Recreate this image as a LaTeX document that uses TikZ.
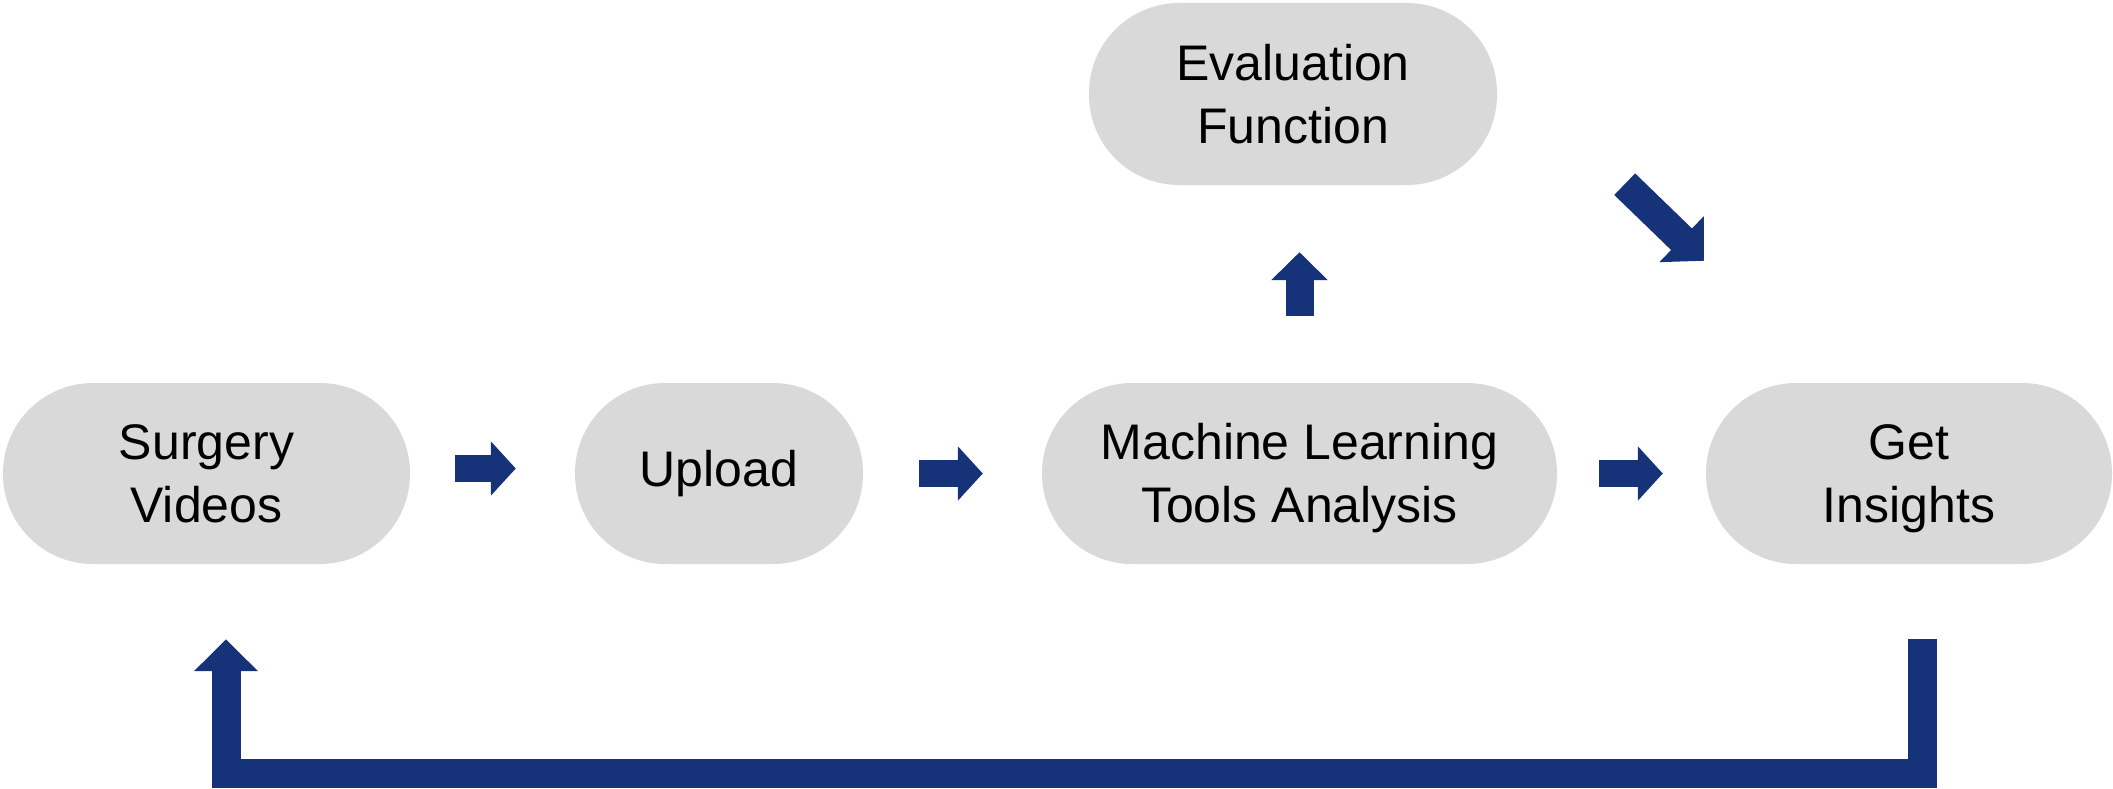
\documentclass[tikz,border=0pt]{standalone}
\usepackage{fontspec}
\setmainfont{Liberation Sans}
\usetikzlibrary{arrows.meta}
\definecolor{pillgray}{HTML}{D9D9D9}
\definecolor{navy}{RGB}{22,51,122}
\begin{document}
\begin{tikzpicture}[x=1pt,y=-1pt,
  pill/.style={fill=pillgray, draw=none, rounded corners=90pt,
    minimum height=181pt, inner sep=0pt, align=center,
    font=\fontsize{50}{63}\selectfont, text height=98.8pt, text depth=0pt},
  oneline/.style={text height=35.8pt, text depth=9pt},
  flow/.style={draw=navy, line width=27pt, line cap=butt,
    -{Triangle[length=25pt,width=53pt]}},
  upflow/.style={draw=navy, line width=28pt, line cap=butt,
    -{Triangle[length=28pt,width=55pt]}},
  slantflow/.style={draw=navy, line width=30pt, line cap=butt,
    -{Triangle[length=31pt,width=62pt]}},
  loopflow/.style={draw=navy, line width=29pt, line cap=butt, line join=miter,
    -{Triangle[length=32pt,width=62pt]}}]
\useasboundingbox (0,0) rectangle (2113,789);

% process stages
\node[pill, minimum width=407pt] (sv) at (206.5,473.5) {Surgery\\Videos};
\node[pill, oneline, minimum width=288pt] (up) at (719,473.5) {Upload};
\node[pill, minimum width=515pt] (ml) at (1299.5,473.5) {Machine Learning\\Tools Analysis};
\node[pill, minimum width=406pt] (gi) at (1909,473.5) {Get\\Insights};
\node[pill, minimum width=408pt, minimum height=182pt] (ev) at (1293,94) {Evaluation\\Function};

% forward flow
\draw[flow] ([shift={(45,-5)}]sv.east) -- ([shift={(-59,-5)}]up.west);
\draw[flow] ([shift={(56,0)}]up.east) -- ([shift={(-59,0)}]ml.west);
\draw[flow] ([shift={(42,0)}]ml.east) -- ([shift={(-43,0)}]gi.west);

% evaluation branch
\draw[upflow] ([shift={(0,-67)}]ml.north) -- ([shift={(6.5,67)}]ev.south);
\draw[slantflow] ([shift={(127.5,-1)}]ev.south east) -- ([shift={(-2,-122)}]gi.north west);

% feedback loop
\draw[loopflow] ([shift={(13.5,75)}]gi.south) -- ++(0,134.5) -| ([shift={(19.5,75)}]sv.south);
\end{tikzpicture}
\end{document}
